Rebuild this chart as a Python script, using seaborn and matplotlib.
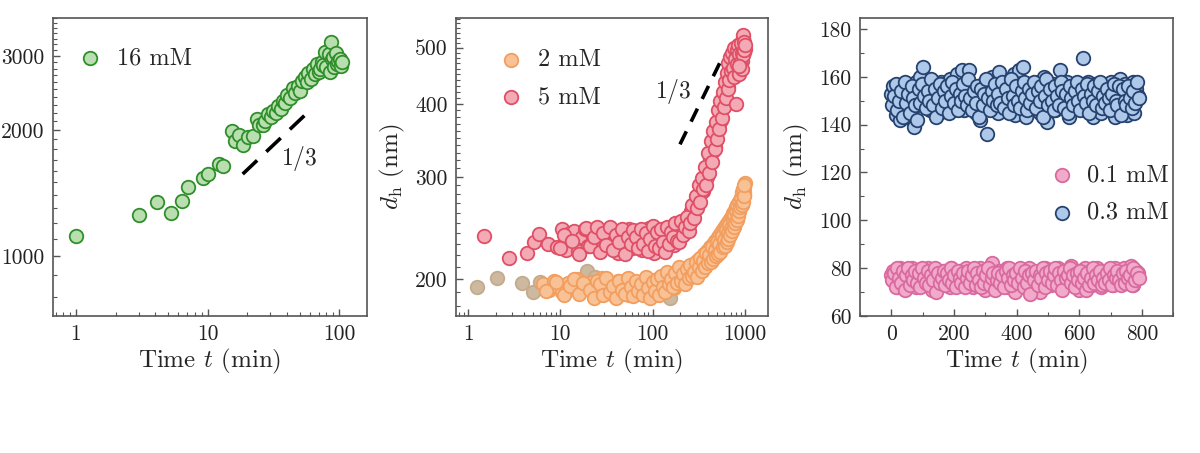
import numpy as np
import pandas as pd
import matplotlib
matplotlib.use("Agg")
import matplotlib.pyplot as plt
import matplotlib.ticker as mticker
import seaborn as sns

# ---------------- data ----------------
# panel (a): 16 mM, log-log
t_16 = [1.0, 3.0, 4.1, 5.3, 6.4, 7.1, 9.2, 10.1, 12.2, 13.1,
        15.3, 16.2, 17.3, 18.6, 20.3, 22.2, 23.8, 24.5, 26.4, 27.5,
        28.9, 30.2, 31.5, 33.0, 34.3, 36.0, 37.6, 39.0, 40.0, 42.0,
        44.5, 46.0, 48.6, 50.0, 52.0, 55.0, 57.0, 58.0, 61.0, 63.0,
        65.0, 68.0, 70.0, 72.0, 74.0, 76.0, 78.0, 80.0, 83.0, 85.0,
        87.0, 88.0, 90.0, 92.0, 94.0, 96.0, 98.0, 101.0, 103.0, 105.0]
d_16 = [1120, 1257, 1350, 1270, 1357, 1465, 1540, 1570, 1660, 1640,
        1990, 1880, 1945, 1840, 1925, 1935, 2120, 2050, 2055, 2100,
        2180, 2150, 2220, 2200, 2280, 2250, 2345, 2320, 2430, 2380,
        2520, 2450, 2540, 2480, 2610, 2680, 2600, 2730, 2650, 2800,
        2720, 2880, 2750, 2790, 2910, 2860, 3075, 2820, 3030, 2750,
        3250, 2950, 2990, 2820, 3050, 2870, 2920, 2960, 2840, 2900]
guide_a_t = [18.5, 63.0]
guide_a_d = [1570, 2260]

# panel (b): 2 mM and 5 mM, log-log
t_5 = [1.5, 2.8, 4.4, 5.2, 5.9, 7.3, 9.2, 10.5, 11.5, 12.8,
       14, 15.5, 17, 18.5, 20, 22, 24, 26, 28, 30,
       33, 36, 39, 42, 45, 48, 52, 56, 60, 64,
       68, 72, 77, 82, 87, 92, 97, 103, 109, 115,
       121, 127, 134, 141, 148, 155, 163, 171, 180, 190,
       200, 210, 220, 230, 240, 250, 262, 274, 286, 298,
       310, 322, 335, 348, 361, 375, 389, 403, 417, 432,
       447, 462, 477, 492, 507, 522, 537, 552, 567, 582,
       597, 612, 627, 642, 657, 672, 687, 702, 717, 732,
       747, 762, 777, 792, 807, 822, 837, 852, 867, 882,
       897, 912, 927, 942, 957, 972, 987, 995, 960, 930,
       10, 11, 13.5, 16, 19, 21, 23, 25, 27, 29,
       31.5, 34.5, 37.5, 40.5, 43.5, 46.5, 50, 54, 58, 62,
       66, 70, 74.5, 79.5, 84.5, 89.5, 94.5, 100, 106, 112,
       118, 124, 130, 137, 144, 151, 159, 167, 175, 185,
       195, 205, 215, 225, 235, 245, 256, 268, 280, 292,
       304, 316, 328, 341, 354, 368, 382, 396, 410, 424,
       439, 454, 469, 484, 499, 514, 529, 544, 559, 574,
       589, 604, 619, 634, 649, 664, 679, 694, 709, 724,
       739, 754, 769, 784, 799, 814, 829, 844, 859, 874,
       889, 904, 919, 934, 949, 964, 979, 990, 1000, 870]
d_5 = [237, 218, 222, 232, 239, 230, 227, 244, 225, 240,
       242, 224, 236, 244, 228, 239, 232, 241, 226, 235,
       243, 230, 237, 222, 240, 228, 235, 244, 226, 238,
       231, 242, 225, 236, 229, 245, 233, 222, 239, 230,
       243, 234, 226, 240, 231, 238, 235, 229, 244, 237,
       240, 247, 243, 252, 248, 256, 262, 258, 270, 266,
       275, 280, 288, 284, 296, 303, 300, 312, 322, 318,
       332, 343, 338, 352, 362, 370, 380, 376, 392, 402,
       410, 398, 422, 434, 428, 445, 458, 450, 468, 478,
       472, 488, 480, 495, 470, 490, 485, 500, 478, 495,
       488, 505, 482, 498, 519, 492, 502, 498, 508, 474,
       226, 238, 233, 221, 245, 228, 236, 246, 223, 240,
       229, 246, 225, 238, 232, 244, 221, 236, 230, 243,
       236, 226, 244, 230, 240, 224, 235, 247, 228, 241,
       226, 244, 232, 223, 246, 230, 241, 236, 250, 233,
       232, 252, 238, 246, 256, 242, 250, 268, 255, 278,
       265, 290, 272, 298, 286, 312, 290, 330, 305, 345,
       318, 360, 335, 372, 348, 390, 362, 405, 378, 420,
       395, 436, 410, 452, 425, 470, 440, 482, 455, 490,
       462, 500, 445, 478, 400, 495, 468, 505, 450, 488,
       470, 508, 490, 460, 525, 485, 512, 495, 505, 465]
t_2 = [6.5, 7.5, 8.5, 9.5, 10.5, 12, 13.5, 15, 16.5, 18,
       20, 22, 24, 26, 28, 30, 33, 36, 39, 42,
       45, 48, 52, 56, 60, 64, 68, 72, 77, 82,
       87, 92, 97, 103, 109, 115, 121, 127, 134, 141,
       148, 155, 163, 171, 180, 190, 200, 210, 220, 230,
       240, 250, 262, 274, 286, 298, 310, 322, 335, 348,
       361, 375, 389, 403, 417, 432, 447, 462, 477, 492,
       507, 522, 537, 552, 567, 582, 597, 612, 627, 642,
       657, 672, 687, 702, 717, 732, 747, 762, 777, 792,
       807, 822, 837, 852, 867, 882, 897, 912, 927, 942,
       957, 972, 987, 995, 975, 950, 920, 890, 860, 830,
       7, 9, 11, 12.8, 14, 16, 17.5, 21, 23, 25,
       27, 29, 31.5, 34.5, 37.5, 40.5, 43.5, 46.5, 50, 54,
       58, 62, 66, 70, 74.5, 79.5, 84.5, 89.5, 94.5, 100,
       106, 112, 118, 124, 130, 137, 144, 151, 159, 167,
       175, 185, 195, 205, 215, 225, 235, 245, 256, 268,
       280, 292, 304, 316, 328, 341, 354, 368, 382, 396,
       410, 424, 439, 454, 469, 484, 499, 514, 529, 544,
       559, 574, 589, 604, 619, 634, 649, 664, 679, 694,
       709, 724, 739, 754, 769, 784, 799, 814, 829, 844,
       859, 874, 889, 904, 919, 934, 949, 964, 979, 990]
d_2 = [196, 192, 199, 194, 190, 197, 193, 200, 191, 196,
       193, 198, 190, 195, 201, 192, 197, 189, 194, 199,
       191, 196, 193, 188, 198, 194, 190, 197, 192, 195,
       199, 191, 196, 193, 189, 198, 194, 200, 192, 197,
       195, 201, 198, 193, 203, 199, 205, 201, 207, 203,
       209, 205, 211, 207, 213, 210, 216, 212, 218, 215,
       221, 217, 224, 220, 227, 223, 230, 226, 233, 229,
       236, 232, 239, 235, 242, 238, 245, 241, 248, 244,
       251, 247, 254, 250, 257, 253, 260, 256, 263, 259,
       266, 262, 269, 265, 272, 268, 276, 271, 280, 275,
       284, 279, 288, 293, 283, 278, 272, 268, 262, 258,
       191, 198, 188, 195, 200, 189, 197, 192, 186, 199,
       196, 188, 201, 190, 195, 186, 199, 192, 189, 201,
       194, 187, 199, 191, 196, 188, 202, 193, 186, 198,
       191, 200, 188, 203, 194, 190, 206, 196, 200, 194,
       205, 197, 210, 199, 204, 196, 208, 201, 212, 203,
       206, 214, 202, 210, 218, 207, 215, 210, 222, 213,
       220, 214, 227, 217, 225, 219, 232, 221, 230, 223,
       237, 227, 234, 228, 243, 232, 240, 235, 248, 238,
       245, 242, 253, 246, 258, 250, 262, 253, 268, 257,
       262, 272, 266, 276, 268, 282, 272, 286, 278, 290]
t_2_early = [1.25, 2.06, 3.85, 5.1, 6.0, 8.1, 11.8, 19.5, 23.6, 155]
d_2_early = [194, 201, 197, 190, 198, 195, 192, 207, 202, 186]
guide_b_t = [198, 565]
guide_b_d = [341, 479]

# panel (c): 0.1 mM and 0.3 mM, linear
t_c = [0, 5, 11, 16, 22, 28, 33, 39, 45, 50,
       56, 62, 67, 73, 79, 84, 90, 96, 101, 107,
       113, 118, 124, 130, 135, 141, 147, 152, 158, 164,
       169, 175, 181, 186, 192, 198, 203, 209, 215, 220,
       226, 232, 237, 243, 249, 254, 260, 266, 271, 277,
       283, 288, 294, 300, 305, 311, 317, 322, 328, 334,
       339, 345, 351, 356, 362, 368, 373, 379, 385, 390,
       396, 402, 407, 413, 419, 424, 430, 436, 441, 447,
       453, 458, 464, 470, 475, 481, 487, 492, 498, 504,
       509, 515, 521, 526, 532, 538, 543, 549, 555, 560,
       566, 572, 577, 583, 589, 594, 600, 606, 611, 617,
       623, 628, 634, 640, 645, 651, 657, 662, 668, 674,
       679, 685, 691, 696, 702, 708, 713, 719, 725, 730,
       736, 742, 747, 753, 759, 764, 770, 776, 781, 787,
       3, 8, 14, 19, 25, 31, 36, 42, 48, 53,
       59, 65, 70, 76, 82, 87, 93, 99, 104, 110,
       116, 121, 127, 133, 138, 144, 150, 155, 161, 167,
       172, 178, 184, 189, 195, 201, 206, 212, 218, 223,
       229, 235, 240, 246, 252, 257, 263, 269, 274, 280,
       286, 291, 297, 303, 308, 314, 320, 325, 331, 337,
       342, 348, 354, 359, 365, 371, 376, 382, 388, 393,
       399, 405, 410, 416, 422, 427, 433, 439, 444, 450,
       456, 461, 467, 473, 478, 484, 490, 495, 501, 507,
       512, 518, 524, 529, 535, 541, 546, 552, 558, 563,
       569, 575, 580, 586, 592, 597, 603, 609, 614, 620,
       626, 631, 637, 643, 648, 654, 660, 665, 671, 677,
       682, 688, 694, 699, 705, 711, 716, 722, 728, 733,
       739, 745, 750, 756, 762, 767, 773, 779, 784, 790]
d_03 = [153, 156, 149, 144, 155, 142, 151, 147, 156, 143,
        154, 150, 147, 139, 158, 152, 160, 148, 164, 155,
        151, 157, 146, 153, 149, 156, 152, 145, 158, 150,
        154, 148, 155, 159, 147, 157, 151, 161, 149, 153,
        163, 146, 155, 150, 163, 148, 156, 152, 145, 154,
        142, 151, 157, 149, 136, 155, 147, 160, 150, 153,
        145, 162, 151, 156, 148, 153, 146, 157, 150, 161,
        144, 155, 163, 149, 164, 152, 143, 157, 150, 154,
        147, 156, 151, 158, 145, 153, 160, 149, 141, 155,
        152, 157, 146, 154, 150, 163, 148, 155, 151, 158,
        143, 154, 149, 156, 152, 147, 157, 151, 168, 146,
        153, 158, 150, 155, 143, 157, 149, 154, 145, 156,
        151, 147, 156, 152, 158, 150, 143, 155, 149, 159,
        152, 146, 157, 144, 153, 150, 158, 145, 155, 152,
        148, 152, 157, 146, 150, 154, 143, 158, 149, 153,
        145, 156, 151, 148, 142, 155, 149, 157, 152, 147,
        154, 150, 159, 148, 155, 143, 151, 157, 147, 154,
        150, 156, 145, 152, 158, 149, 155, 146, 153, 150,
        157, 152, 148, 159, 151, 146, 154, 149, 156, 143,
        155, 148, 153, 159, 151, 146, 154, 150, 157, 148,
        153, 149, 158, 147, 155, 151, 145, 159, 152, 148,
        156, 150, 147, 154, 158, 151, 146, 155, 149, 153,
        158, 147, 154, 150, 156, 143, 152, 159, 148, 155,
        150, 146, 156, 152, 148, 158, 154, 147, 153, 145,
        156, 151, 148, 154, 158, 150, 146, 155, 152, 149,
        157, 145, 153, 150, 156, 148, 154, 158, 147, 152,
        149, 155, 151, 146, 153, 157, 150, 148, 156, 144,
        155, 150, 148, 156, 151, 147, 154, 149, 158, 151]
d_01 = [77, 79, 74, 78, 72, 80, 76, 73, 79, 75,
        78, 74, 80, 76, 72, 79, 75, 77, 73, 78,
        76, 80, 74, 71, 78, 75, 79, 73, 77, 76,
        79, 74, 77, 72, 80, 76, 78, 73, 75, 79,
        74, 77, 80, 73, 76, 78, 72, 79, 75, 77,
        80, 74, 76, 71, 78, 75, 79, 82, 73, 77,
        76, 79, 73, 78, 75, 80, 72, 77, 74, 79,
        70, 76, 78, 74, 79, 73, 77, 75, 80, 76,
        72, 78, 75, 79, 70, 77, 74, 80, 76, 78,
        73, 79, 75, 77, 80, 74, 78, 72, 76, 79,
        75, 81, 73, 77, 79, 74, 71, 78, 76, 80,
        74, 77, 79, 73, 78, 75, 80, 76, 72, 78,
        77, 74, 79, 75, 78, 73, 80, 76, 74, 79,
        76, 80, 74, 78, 75, 81, 73, 77, 79, 78,
        75, 78, 72, 80, 76, 74, 79, 71, 77, 80,
        73, 77, 75, 79, 74, 78, 72, 80, 76, 74,
        79, 73, 77, 75, 80, 70, 78, 74, 76, 79,
        73, 78, 75, 80, 74, 77, 72, 79, 76, 74,
        78, 72, 76, 79, 74, 77, 80, 73, 78, 75,
        72, 79, 74, 77, 80, 73, 76, 78, 71, 75,
        78, 74, 77, 72, 79, 76, 80, 73, 77, 75,
        78, 74, 80, 76, 72, 79, 74, 77, 69, 78,
        75, 79, 73, 77, 76, 80, 72, 78, 75, 79,
        74, 77, 80, 73, 78, 75, 71, 79, 76, 77,
        80, 74, 77, 72, 78, 75, 79, 74, 76, 71,
        78, 73, 76, 80, 74, 77, 75, 79, 73, 76,
        74, 78, 75, 80, 73, 77, 76, 79, 75, 73,
        78, 74, 79, 76, 77, 73, 80, 75, 78, 76]

# ---------------- style ----------------
sns.set_style("ticks")
plt.rcParams["font.family"] = ["cmr10", "DejaVu Serif"]
plt.rcParams["mathtext.fontset"] = "cm"
plt.rcParams["axes.formatter.use_mathtext"] = True
plt.rcParams["axes.edgecolor"] = "#555555"
plt.rcParams["axes.linewidth"] = 1.2
plt.rcParams["xtick.color"] = "#555555"
plt.rcParams["ytick.color"] = "#555555"
plt.rcParams["xtick.labelcolor"] = "#222222"
plt.rcParams["ytick.labelcolor"] = "#222222"

TICK_FS = 15.5
LABEL_FS = 18
LEG_FS = 17.5
MS = 95
EW = 1.3

fig = plt.figure(figsize=(12, 4.53), dpi=100)
ax1 = fig.add_axes([0.0442, 0.3024, 0.2617, 0.658])
ax2 = fig.add_axes([0.38, 0.3024, 0.26, 0.658])
ax3 = fig.add_axes([0.7167, 0.3024, 0.261, 0.658])

fmt = mticker.FuncFormatter(lambda v, p: f"{v:g}")


def style_axis(ax):
    ax.tick_params(which="both", direction="in", top=False, right=False)
    ax.tick_params(which="major", length=5, width=1.0, labelsize=TICK_FS, pad=6)
    ax.tick_params(which="minor", length=3, width=0.8)
    ax.set_xlabel("Time $t$ (min)", fontsize=LABEL_FS, labelpad=2)
    ax.set_ylabel(r"$d_\mathrm{h}$ (nm)", fontsize=LABEL_FS, labelpad=6)
    for s in ax.spines.values():
        s.set_visible(True)


# ---- panel (a)
df_a = pd.DataFrame({"t": t_16, "d": d_16})
sns.scatterplot(data=df_a, x="t", y="d", ax=ax1, s=MS, color="#b9dfb0",
                edgecolor="#2f8f2a", linewidth=EW, label="16 mM", zorder=3)
ax1.plot(guide_a_t, guide_a_d, color="black", lw=2.6, dashes=(5.5, 3.5))
ax1.text(50, 1706, "$1/3$", fontsize=17, ha="center", va="center")
ax1.set_xscale("log")
ax1.set_yscale("log")
ax1.set_xlim(0.67, 163)
ax1.set_ylim(720, 3700)
ax1.xaxis.set_major_locator(mticker.FixedLocator([1, 10, 100]))
ax1.xaxis.set_major_formatter(fmt)
ax1.yaxis.set_major_locator(mticker.FixedLocator([1000, 2000, 3000]))
ax1.yaxis.set_major_formatter(fmt)
ax1.yaxis.set_minor_locator(mticker.MultipleLocator(100))
ax1.yaxis.set_minor_formatter(mticker.NullFormatter())
style_axis(ax1)
ax1.legend(loc="upper left", bbox_to_anchor=(0.08, 0.9), frameon=False,
           fontsize=LEG_FS, handlelength=1.0, handletextpad=0.6,
           borderpad=0, borderaxespad=0)

# ---- panel (b)
df_2 = pd.DataFrame({"t": t_2, "d": d_2})
df_2e = pd.DataFrame({"t": t_2_early, "d": d_2_early})
df_5 = pd.DataFrame({"t": t_5, "d": d_5})
sns.scatterplot(data=df_2e, x="t", y="d", ax=ax2, s=MS, color="#cdb8a0",
                edgecolor="#c4ab8e", linewidth=EW, zorder=3)
sns.scatterplot(data=df_2, x="t", y="d", ax=ax2, s=MS, color="#f9c296",
                edgecolor="#f29e5e", linewidth=EW, label="2 mM", zorder=3)
sns.scatterplot(data=df_5, x="t", y="d", ax=ax2, s=MS, color="#f3aab5",
                edgecolor="#df4f66", linewidth=EW, label="5 mM", zorder=3)
ax2.plot(guide_b_t, guide_b_d, color="black", lw=2.6, dashes=(4, 3))
ax2.text(167, 420, "$1/3$", fontsize=17, ha="center", va="center")
ax2.set_xscale("log")
ax2.set_yscale("log")
ax2.set_xlim(0.74, 1780)
ax2.set_ylim(173, 562)
ax2.xaxis.set_major_locator(mticker.FixedLocator([1, 10, 100, 1000]))
ax2.xaxis.set_major_formatter(fmt)
ax2.yaxis.set_major_locator(mticker.FixedLocator([200, 300, 400, 500]))
ax2.yaxis.set_major_formatter(fmt)
ax2.yaxis.set_minor_locator(mticker.MultipleLocator(10))
ax2.yaxis.set_minor_formatter(mticker.NullFormatter())
style_axis(ax2)
ax2.legend(loc="upper left", bbox_to_anchor=(0.138, 0.895), frameon=False,
           fontsize=LEG_FS, handlelength=1.0, handletextpad=0.6,
           borderpad=0, borderaxespad=0, labelspacing=0.62)

# ---- panel (c)
df_c = pd.DataFrame({"t": t_c, "d01": d_01, "d03": d_03})
sns.scatterplot(data=df_c, x="t", y="d01", ax=ax3, s=MS, color="#f2aacb",
                edgecolor="#d96a9f", linewidth=EW, label="0.1 mM", zorder=3)
sns.scatterplot(data=df_c, x="t", y="d03", ax=ax3, s=MS, color="#aec8ea",
                edgecolor="#26426f", linewidth=EW, label="0.3 mM", zorder=3)
ax3.set_xlim(-100, 900)
ax3.set_ylim(60, 184.6)
ax3.xaxis.set_major_locator(mticker.MultipleLocator(200))
ax3.xaxis.set_minor_locator(mticker.MultipleLocator(100))
ax3.yaxis.set_major_locator(mticker.MultipleLocator(20))
ax3.yaxis.set_minor_locator(mticker.MultipleLocator(10))
ax3.xaxis.set_major_formatter(fmt)
ax3.yaxis.set_major_formatter(fmt)
style_axis(ax3)
ax3.legend(loc="upper left", bbox_to_anchor=(0.607, 0.508), frameon=False,
           fontsize=LEG_FS, handlelength=1.0, handletextpad=0.5,
           borderpad=0, borderaxespad=0, labelspacing=0.62)

fig.savefig("out.png", dpi=100, facecolor="white")
